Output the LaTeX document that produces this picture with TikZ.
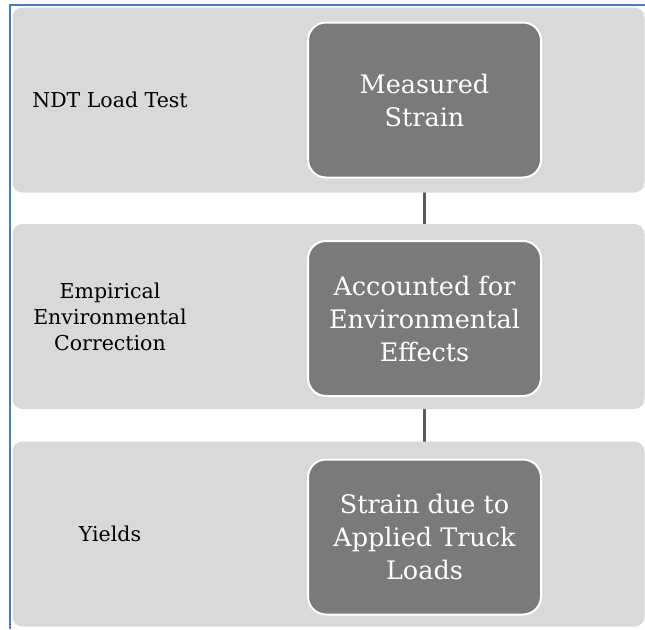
\documentclass[tikz,border=0pt]{standalone}
\usepackage{fontspec}
\setmainfont{DejaVu Serif}
\usepackage{tikz}
\usetikzlibrary
  {
    positioning,              % place nodes relative to other nodes
    backgrounds,              % band layer behind the boxes
  }

\definecolor{bandgray}{HTML}{D9D9D9}
\definecolor{boxgray}{HTML}{7A7A7A}
\definecolor{linkgray}{HTML}{595959}
\definecolor{frameblue}{HTML}{4A7EBB}

\tikzset{
  band/.style={fill=bandgray, rounded corners=10pt, minimum width=632pt,
    minimum height=185pt, inner sep=0pt},
  stepbox/.style={fill=boxgray, draw=white, line width=2pt, rounded corners=18pt,
    minimum width=233pt, minimum height=155pt, text=white, align=center,
    font=\fontsize{25.5}{33}\selectfont},
  caption/.style={align=center, font=\fontsize{20.5}{26}\selectfont},
  link/.style={draw=linkgray, line width=3pt},
}

\begin{document}
\begin{tikzpicture}[x=1pt, y=-1pt]
    \useasboundingbox (0,0) rectangle (645,629);

    % frame along top and left
    \draw[frameblue, line width=2pt] (10,629) -- (10,4.5) -- (645,4.5);

    % the three gray bands
    \node[band] (band1) at (328.5,100) {};
    \node[band] (band2) at (328.5,316.5) {};
    \node[band] (band3) at (328.5,534) {};

    % what each band stands for
    \node[caption] (lab1) at (110,100) {NDT Load Test};
    \node[caption] (lab2) at (110,317) {Empirical\\Environmental\\Correction};
    \node[caption] (lab3) at (110,534) {Yields};

    % the steps
    \node[stepbox] (meas) at (424.5,100) {Measured\\Strain};
    \node[stepbox] (env) at (424.5,318.5) {Accounted for\\Environmental\\Effects};
    \node[stepbox] (truck) at (424.5,537) {Strain due to\\Applied Truck\\Loads};

    \begin{pgfonlayer}{background}
      \draw[link] (meas.south) -- (env.north);
      \draw[link] (env.south) -- (truck.north);
    \end{pgfonlayer}
  \end{tikzpicture}
\end{document}
